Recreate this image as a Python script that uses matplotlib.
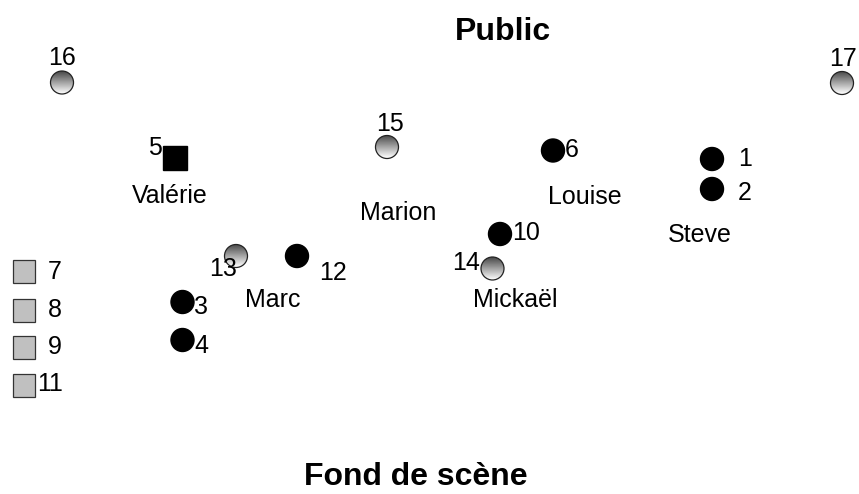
import numpy as np
import matplotlib.pyplot as plt
from matplotlib.patches import Circle, Rectangle

plt.rcParams['font.family'] = ['Liberation Sans', 'DejaVu Sans']

# positions des personnes / objets (pixels)
ids   = ['16', '17', '15', '5', '6', '1', '2', '10', '14', '13', '12', '3', '4', '7', '8', '9', '11']
px    = [62, 842, 387, 175, 553, 712, 712, 500, 492.5, 236, 297, 182.5, 182.5, 24, 24, 24, 24]
py    = [82.5, 83, 147, 158, 150.5, 159, 189, 234, 268.5, 256, 256, 302, 340, 271.5, 310, 347.5, 385]
kind  = ['g', 'g', 'g', 'bs', 'b', 'b', 'b', 'b', 'g', 'g', 'b', 'b', 'b', 's', 's', 's', 's']
# centre visuel des numeros
lx    = [62, 843, 390, 155, 572, 745, 745, 526, 466, 223, 333, 201, 201, 55, 55, 55, 50]
ly    = [56, 57, 122, 146, 148, 157, 191, 231, 261, 267, 271, 305, 344, 270, 308, 345, 382]

noms  = ['Valérie', 'Marion', 'Louise', 'Steve', 'Marc', 'Mickaël']
nx    = [170, 398, 585, 700, 273, 515]
ny    = [194, 211, 195, 233, 298, 298]

fs = 18
half = 9  # demi-hauteur des capitales en pixels

fig = plt.figure(figsize=(8.59, 4.94), dpi=100)
ax = fig.add_axes([0, 0, 1, 1])
ax.set_xlim(0, 859)
ax.set_ylim(494, 0)
ax.axis('off')

grad = np.linspace(0.28, 1.0, 64).reshape(-1, 1)

for i in range(len(ids)):
    x, y, k = px[i], py[i], kind[i]
    r = 11.5
    if k == 'b':
        ax.add_patch(Circle((x, y), r, facecolor='black', edgecolor='black', zorder=3))
    elif k == 'g':
        c = Circle((x, y), r, facecolor='none', edgecolor='#222222', lw=0.9, zorder=4)
        ax.add_patch(c)
        im = ax.imshow(grad, cmap='gray', vmin=0, vmax=1, extent=(x - r, x + r, y + r, y - r),
                       origin='upper', zorder=3, interpolation='bilinear')
        im.set_clip_path(c)
    elif k == 'bs':
        ax.add_patch(Rectangle((x - 12, y - 12), 24, 24, facecolor='black', edgecolor='black', zorder=3))
    else:
        ax.add_patch(Rectangle((x - 11, y - 11.5), 22, 23, facecolor='#c0c0c0', edgecolor='#333333', lw=0.9, zorder=3))
    ax.text(lx[i], ly[i] + half, ids[i], fontsize=fs, ha='center', va='baseline', zorder=5)

ax.set_aspect('auto')

for n, x, y in zip(noms, nx, ny):
    ax.text(x, y + half, n, fontsize=fs, ha='center', va='baseline')

ax.text(503, 40, 'Public', fontsize=23, fontweight='bold', ha='center', va='baseline')
ax.text(416, 485, 'Fond de scène', fontsize=23, fontweight='bold', ha='center', va='baseline')

plt.savefig('out.png', dpi=100)
